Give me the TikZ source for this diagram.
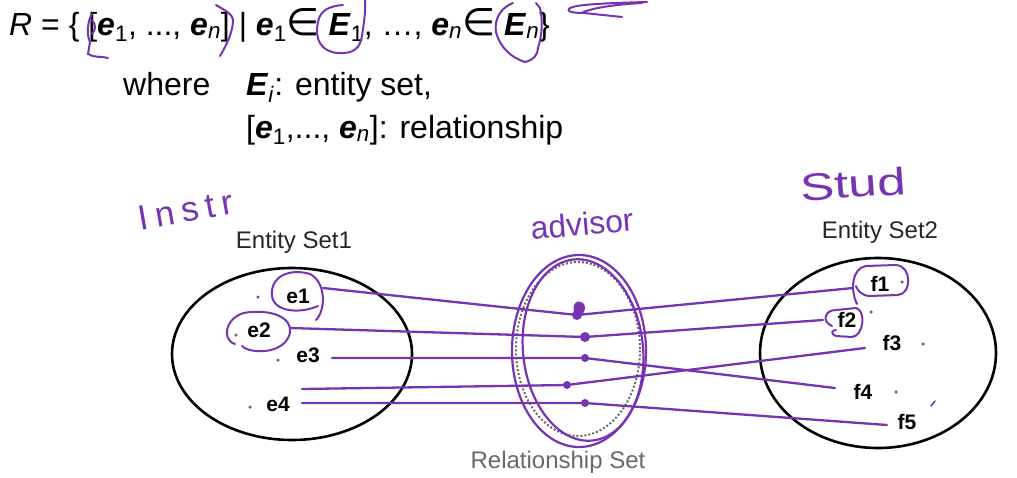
\documentclass[tikz,border=0pt]{standalone}
\usepackage{fontspec}
\setmainfont{Liberation Sans}
\newfontfamily\djv{DejaVu Sans}
\newfontfamily\handfont[LetterSpace=20]{Liberation Sans}
\usetikzlibrary{shapes.geometric}
\definecolor{pen}{RGB}{118,52,178}
\definecolor{relgray}{RGB}{105,105,105}
\tikzset{
  setell/.style={draw=black, line width=2.6pt, ellipse, inner sep=0pt},
  conn/.style={draw=pen, line width=2.3pt, line cap=round, line join=round},
  loop/.style={draw=pen, line width=2pt, line cap=round},
  elem/.style={font=\fontsize{21}{24}\selectfont\bfseries, inner sep=1pt},
  setlbl/.style={font=\fontsize{24}{28}\selectfont, text=black!85},
  formula/.style={font=\fontsize{32}{36}\selectfont, anchor=base west, inner sep=0pt},
  hand/.style={font=\fontsize{32}{36}\selectfont, text=pen, inner sep=0pt},
  rdot/.style={circle, fill=pen, inner sep=0pt, minimum size=8pt},
  tiny/.style={circle, fill=pen!60!gray, inner sep=0pt, minimum size=3.5pt},
}
\newcommand{\bi}[1]{\textbf{\textit{#1}}}
\newcommand{\elt}{{\djv\fontsize{38}{38}\selectfont ∈}}
\begin{document}
\begin{tikzpicture}[x=1pt,y=-1pt]
\useasboundingbox (0,0) rectangle (1017,477);
% formula
\node[formula] (L1) at (9,35) {\textit{R} = \{ [\bi{e}\textsubscript{1}, ..., \bi{e}\textsubscript{\textit{n}}] | \bi{e}\textsubscript{1}\elt\ \bi{E}\textsubscript{1}, …, \bi{e}\textsubscript{\textit{n}}\elt\ \bi{E}\textsubscript{\textit{n}}\}};
\node[formula] (L2a) at (123,95) {where};
\node[formula] (L2b) at (246,95) {\bi{E}\textsubscript{\textit{i}}: entity set,};
\node[formula] (L3) at (246,138) {[\bi{e}\textsubscript{1},..., \bi{e}\textsubscript{\textit{n}}]: relationship};
% formula annotations
\draw[loop] (92,14) .. controls (88,20) and (86,34) .. (90,42) -- (88,54) .. controls (94,58) and (102,56) .. (108,58);
\draw[loop] (92,20) .. controls (96,24) and (96,30) .. (92,34);
\draw[loop] (216,5) .. controls (224,10) and (234,14) .. (233,22) .. controls (232,34) and (226,46) .. (220,56);
\draw[loop] (343,5) .. controls (330,6) and (320,10) .. (318,22) .. controls (314,40) and (322,52) .. (338,53) .. controls (354,54) and (360,48) .. (362,36) .. controls (364,22) and (366,10) .. (365,0);
\draw[loop] (513,3) .. controls (500,8) and (494,20) .. (496,32) .. controls (500,48) and (512,58) .. (525,62) .. controls (534,60) and (538,54) .. (538,48) .. controls (542,36) and (543,20) .. (540,8) -- (536,3);
\draw[loop] (647,2) .. controls (612,3) and (578,4) .. (570,8) .. controls (565,12) and (574,13) .. (584,13) -- (622,17);
\draw[loop] (583,12) .. controls (600,6) and (625,4) .. (642,3);
% entity sets
\node[setell, minimum width=240pt, minimum height=172pt] (S1) at (292,354) {};
\node[setell, minimum width=236pt, minimum height=190pt] (S2) at (878,353) {};
\node[setlbl] (S1l) at (294,242) {Entity Set1};
\node[setlbl] (S2l) at (880,232) {Entity Set2};
% relationship set
\node[draw=relgray, dotted, line width=2pt, ellipse, minimum width=124pt, minimum height=174pt] (RS) at (578,349) {};
\draw[loop, line width=2.2pt] (579,351) ellipse [x radius=67, y radius=96];
\draw[loop, line width=2.2pt, rotate around={6:(583,350)}] (583,350) ellipse [x radius=60, y radius=91];
\node[setlbl, text=relgray] (RSl) at (558,462) {Relationship Set};
% elements
\node[elem] (e1) at (298,296) {e1};
\node[elem] (e2) at (259,330) {e2};
\node[elem] (e3) at (308,355) {e3};
\node[elem] (e4) at (278,404) {e4};
\node[elem] (f1) at (880,284) {f1};
\node[elem] (f2) at (847,320) {f2};
\node[elem] (f3) at (892,343) {f3};
\node[elem] (f4) at (863,392) {f4};
\node[elem] (f5) at (907,422) {f5};
% small dots
\node[tiny] (d1) at (258,297) {};
\node[tiny] (d2) at (236,335) {};
\node[tiny] (d3) at (278,360) {};
\node[tiny] (d4) at (250,407) {};
\node[tiny] (d5) at (902,282) {};
\node[tiny] (d6) at (871,312) {};
\node[tiny] (d7) at (923,344) {};
\node[tiny] (d8) at (896,392) {};
\draw[loop, line width=1.5pt] (931,406) -- (935,401);
% loops around elements
\draw[loop] (316,320) .. controls (326,310) and (326,282) .. (310,274) .. controls (290,268) and (270,276) .. (272,296) .. controls (274,312) and (300,314) .. (318,306);
\draw[loop] (235,344) .. controls (220,340) and (226,312) .. (252,312) .. controls (282,310) and (296,324) .. (288,338) .. controls (280,354) and (250,354) .. (242,346);
\draw[loop] (857,304) .. controls (850,290) and (852,268) .. (866,266) -- (896,265) .. controls (912,266) and (912,294) .. (898,295) -- (870,296) .. controls (862,296) and (857,290) .. (856,286);
\draw[loop] (832,326) .. controls (822,322) and (824,310) .. (836,310) -- (856,308) .. controls (866,310) and (864,336) .. (852,337) -- (836,336) .. controls (830,334) and (832,330) .. (836,330);
% relationship dots
\node[rdot, minimum size=10pt] (r1) at (577,315) {};
\draw[loop, fill=pen] (575,312) .. controls (572,300) and (584,300) .. (584,308) .. controls (584,314) and (578,316) .. (575,312);
\node[rdot, minimum size=10pt] (r2) at (585,337) {};
\node[rdot] (r3) at (585,358) {};
\node[rdot] (r4) at (567,385) {};
\node[rdot] (r5) at (585,403) {};
% connector end points
\coordinate (a1) at (323,288);
\coordinate (a2) at (290,328);
\coordinate (a3) at (332,358);
\coordinate (a4) at (302,389);
\coordinate (a5) at (302,403);
\coordinate (b1) at (853,288);
\coordinate (b2) at (823,320);
\coordinate (b3) at (835,388);
\coordinate (b4) at (865,348);
\coordinate (b5) at (887,425);
% connectors
\draw[conn] (a1) -- (r1.center) -- (b1);
\draw[conn] (a2) -- (r2.center) -- (b2);
\draw[conn] (a3) -- (r3.center) -- (b3);
\draw[conn] (a4) -- (r4.center) -- (b4);
\draw[conn] (a5) -- (r5.center) -- (b5);
% handwritten labels
\node[hand, font=\fontsize{35}{36}\handfont, rotate=10] (hI) at (186,210) {Instr};
\node[hand, rotate=5] (hA) at (582,224) {advisor};
\node[hand, rotate=4, xscale=1.6, yscale=1.2] (hS) at (853,184) {Stud};
\end{tikzpicture}
\end{document}
